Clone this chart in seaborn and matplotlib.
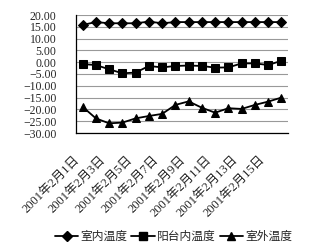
import numpy as np
import pandas as pd
import matplotlib
matplotlib.use('Agg')
import matplotlib.pyplot as plt
import matplotlib.ticker as mticker
import matplotlib.transforms as mtrans
from matplotlib.lines import Line2D
import seaborn as sns

days = [f'2001年2月{d}日' for d in range(1, 17)]
indoor = [15.8, 17.0, 16.5, 16.5, 16.5, 17.2, 16.5, 17.0, 17.0, 17.0, 17.0, 17.0, 17.0, 17.0, 17.0, 17.0]
balcony = [-0.8, -1.2, -3.0, -4.7, -4.4, -1.6, -2.2, -1.6, -1.4, -1.6, -2.3, -2.2, -0.5, -0.5, -1.2, 0.6]
outdoor = [-18.9, -23.8, -25.9, -25.6, -23.8, -22.8, -21.9, -18.1, -16.6, -19.3, -21.4, -19.5, -19.8, -18.1, -16.7, -15.0]
names = ['室内温度', '阳台内温度', '室外温度']
markers = ['D', 's', '^']
msizes = [5, 6, 6]

sns.set_style('white')
plt.rcParams['font.family'] = ['Liberation Serif', 'Noto Sans CJK SC']
plt.rcParams['axes.unicode_minus'] = True

df = pd.DataFrame({'day': np.arange(len(days)), '室内温度': indoor,
                   '阳台内温度': balcony, '室外温度': outdoor})

fig = plt.figure(figsize=(3.13, 2.52), dpi=100)
ax = fig.add_axes([76 / 313, 1 - 133 / 252, (288 - 76) / 313, (133 - 15) / 252])

for name, m, ms in zip(names, markers, msizes):
    sns.lineplot(data=df, x='day', y=name, ax=ax, color='black', linewidth=1.3,
                 marker=m, markersize=ms, markeredgecolor='black')

ax.set_xlim(-0.5, len(days) - 0.5)
ax.set_ylim(-30, 20)
ax.set_yticks(np.arange(-30, 21, 5))
ax.yaxis.set_major_formatter(mticker.FuncFormatter(
    lambda v, p: f'{v:.2f}'.replace('-', '\u2212')))
ax.yaxis.grid(True, color='#999999', linewidth=0.8)
ax.set_axisbelow(True)

ax.set_xticks(np.arange(0, len(days), 2))
ax.set_xticklabels(days[::2], rotation=45, ha='right', rotation_mode='anchor')
ax.set_xticks(np.arange(-0.5, len(days), 2), minor=True)
ax.tick_params(axis='x', which='major', length=0, pad=9, labelsize=9)
ax.tick_params(axis='x', which='minor', length=4, width=0.8, direction='out', color='black')
ax.tick_params(axis='y', length=0, pad=14, labelsize=8.5)
ax.set_xlabel('')
ax.set_ylabel('')

# Excel-style label placement: shift rotated labels left and down a bit
shift = mtrans.ScaledTranslation(-7 / 72, -6 / 72, fig.dpi_scale_trans)
for lab in ax.get_xticklabels():
    lab.set_transform(lab.get_transform() + shift)

for s in ['top', 'right']:
    ax.spines[s].set_visible(False)
for s in ['left', 'bottom']:
    ax.spines[s].set_color('black')
    ax.spines[s].set_linewidth(0.9)

handles = [Line2D([], [], color='black', linewidth=1.3, marker=m, markersize=ms)
           for m, ms in zip(markers, msizes)]
fig.legend(handles, names, loc='center', bbox_to_anchor=(0.555, 1 - 237 / 252),
           ncol=3, frameon=False, fontsize=8.5, handlelength=2.0,
           handletextpad=0.2, columnspacing=0.3, borderaxespad=0)

fig.savefig('out.png', dpi=100)
